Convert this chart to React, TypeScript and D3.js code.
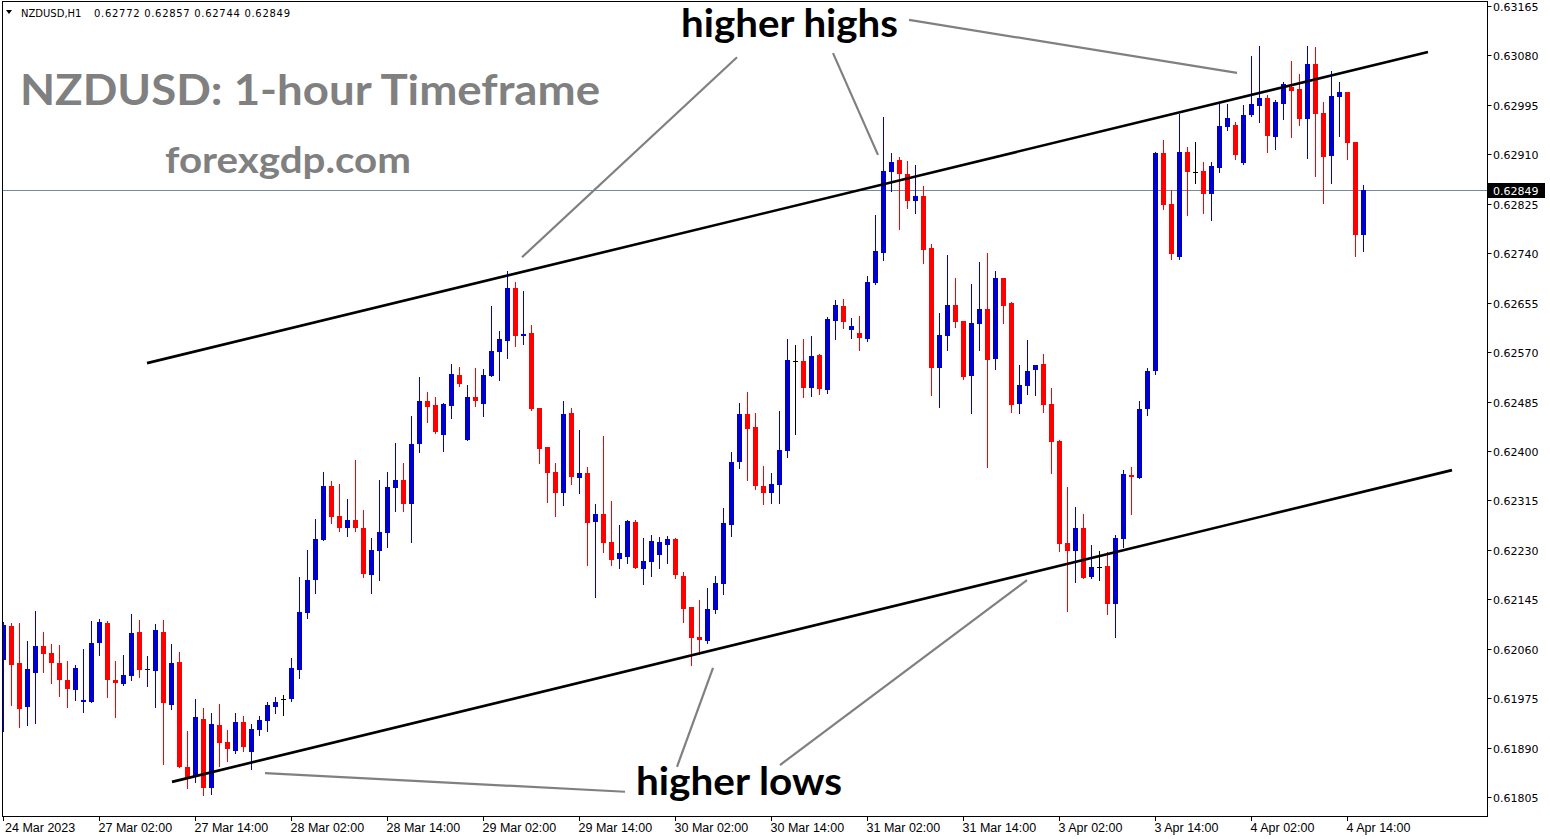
import React from "react";
import * as d3 from "d3";

// ---- Data (NZDUSD H1, 24 Mar 2023 14:00 -> 4 Apr 2023 16:00) ----
const open = [
  0.62041, 0.62099, 0.62035, 0.61960, 0.62018, 0.62065, 0.62053, 0.62035, 0.62006, 0.61989,
  0.61968, 0.61968, 0.62070, 0.62104, 0.62006, 0.61999, 0.62013, 0.62089, 0.62023, 0.62022,
  0.62089, 0.61963, 0.62037, 0.61857, 0.61839, 0.61939, 0.61820, 0.61929, 0.61900, 0.61884,
  0.61934, 0.61882, 0.61920, 0.61936, 0.61960, 0.61974, 0.61974, 0.62023, 0.62121, 0.62178,
  0.62247, 0.62340, 0.62288, 0.62267, 0.62281, 0.62267, 0.62187, 0.62228, 0.62259, 0.62336,
  0.62350, 0.62309, 0.62412, 0.62486, 0.62479, 0.62427, 0.62477, 0.62531, 0.62419, 0.62493,
  0.62481, 0.62529, 0.62570, 0.62589, 0.62680, 0.62598, 0.62603, 0.62474, 0.62407, 0.62364,
  0.62328, 0.62465, 0.62353, 0.62362, 0.62278, 0.62292, 0.62243, 0.62214, 0.62218, 0.62278,
  0.62197, 0.62209, 0.62221, 0.62238, 0.62249, 0.62185, 0.62132, 0.62080, 0.62073, 0.62126,
  0.62171, 0.62273, 0.62381, 0.62464, 0.62441, 0.62340, 0.62328, 0.62341, 0.62400, 0.62555,
  0.62555, 0.62508, 0.62565, 0.62505, 0.62623, 0.62649, 0.62608, 0.62603, 0.62592, 0.62689,
  0.62740, 0.62880, 0.62900, 0.62876, 0.62830, 0.62838, 0.62749, 0.62543, 0.62598, 0.62651,
  0.62623, 0.62529, 0.62618, 0.62644, 0.62558, 0.62697, 0.62654, 0.62481, 0.62512, 0.62539,
  0.62549, 0.62481, 0.62417, 0.62242, 0.62228, 0.62267, 0.62183, 0.62200, 0.62202, 0.62137,
  0.62249, 0.62359, 0.62353, 0.62472, 0.62537, 0.62912, 0.62825, 0.62733, 0.62914, 0.62880,
  0.62881, 0.62842, 0.62886, 0.62957, 0.62960, 0.62895, 0.62978, 0.62993, 0.63007, 0.62940,
  0.62997, 0.63026, 0.63022, 0.62971, 0.63065, 0.62981, 0.62907, 0.63009, 0.63017, 0.62931,
  0.62772,
];
const high = [
  0.62106, 0.62104, 0.62104, 0.62073, 0.62125, 0.62089, 0.62068, 0.62066, 0.62039, 0.62032,
  0.62059, 0.62108, 0.62111, 0.62108, 0.62039, 0.62049, 0.62120, 0.62109, 0.62047, 0.62102,
  0.62109, 0.62068, 0.62054, 0.61919, 0.61973, 0.61958, 0.61949, 0.61965, 0.61920, 0.61949,
  0.61944, 0.61930, 0.61944, 0.61968, 0.61977, 0.61980, 0.62044, 0.62183, 0.62230, 0.62283,
  0.62364, 0.62348, 0.62343, 0.62317, 0.62384, 0.62298, 0.62250, 0.62350, 0.62364, 0.62414,
  0.62379, 0.62460, 0.62527, 0.62501, 0.62493, 0.62482, 0.62549, 0.62544, 0.62513, 0.62543,
  0.62541, 0.62649, 0.62606, 0.62709, 0.62690, 0.62675, 0.62617, 0.62474, 0.62407, 0.62379,
  0.62486, 0.62474, 0.62436, 0.62372, 0.62309, 0.62426, 0.62314, 0.62273, 0.62281, 0.62281,
  0.62250, 0.62255, 0.62252, 0.62254, 0.62250, 0.62192, 0.62132, 0.62144, 0.62164, 0.62185,
  0.62302, 0.62398, 0.62482, 0.62501, 0.62465, 0.62374, 0.62362, 0.62469, 0.62592, 0.62582,
  0.62592, 0.62598, 0.62567, 0.62630, 0.62660, 0.62661, 0.62629, 0.62632, 0.62701, 0.62806,
  0.62974, 0.62912, 0.62905, 0.62898, 0.62892, 0.62856, 0.62756, 0.62637, 0.62737, 0.62697,
  0.62623, 0.62687, 0.62725, 0.62740, 0.62709, 0.62697, 0.62656, 0.62548, 0.62591, 0.62548,
  0.62567, 0.62508, 0.62419, 0.62338, 0.62304, 0.62292, 0.62238, 0.62228, 0.62226, 0.62255,
  0.62367, 0.62372, 0.62486, 0.62543, 0.62914, 0.62935, 0.62849, 0.62979, 0.62923, 0.62931,
  0.62897, 0.62897, 0.62997, 0.62997, 0.62966, 0.62995, 0.63079, 0.63096, 0.63012, 0.63003,
  0.63034, 0.63070, 0.63048, 0.63096, 0.63095, 0.63000, 0.63053, 0.63034, 0.63017, 0.62931,
  0.62857,
];
const low = [
  0.61919, 0.61963, 0.61925, 0.61929, 0.61932, 0.62020, 0.62001, 0.61979, 0.61960, 0.61972,
  0.61951, 0.61968, 0.62049, 0.61977, 0.61943, 0.61998, 0.62006, 0.62011, 0.61996, 0.61960,
  0.61862, 0.61956, 0.61857, 0.61820, 0.61831, 0.61808, 0.61810, 0.61858, 0.61867, 0.61881,
  0.61884, 0.61853, 0.61912, 0.61919, 0.61949, 0.61946, 0.61970, 0.62010, 0.62113, 0.62156,
  0.62247, 0.62276, 0.62262, 0.62254, 0.62262, 0.62183, 0.62156, 0.62178, 0.62235, 0.62297,
  0.62297, 0.62243, 0.62398, 0.62450, 0.62431, 0.62400, 0.62457, 0.62512, 0.62419, 0.62477,
  0.62460, 0.62529, 0.62522, 0.62560, 0.62580, 0.62584, 0.62470, 0.62379, 0.62312, 0.62288,
  0.62307, 0.62343, 0.62328, 0.62204, 0.62149, 0.62226, 0.62204, 0.62199, 0.62207, 0.62199,
  0.62171, 0.62185, 0.62199, 0.62207, 0.62181, 0.62106, 0.62032, 0.62051, 0.62070, 0.62121,
  0.62154, 0.62254, 0.62371, 0.62350, 0.62335, 0.62309, 0.62310, 0.62310, 0.62390, 0.62429,
  0.62493, 0.62494, 0.62498, 0.62500, 0.62592, 0.62611, 0.62594, 0.62574, 0.62589, 0.62687,
  0.62728, 0.62847, 0.62782, 0.62818, 0.62809, 0.62723, 0.62496, 0.62476, 0.62574, 0.62613,
  0.62524, 0.62465, 0.62574, 0.62372, 0.62541, 0.62620, 0.62467, 0.62465, 0.62498, 0.62496,
  0.62467, 0.62362, 0.62228, 0.62125, 0.62175, 0.62181, 0.62181, 0.62178, 0.62120, 0.62080,
  0.62235, 0.62292, 0.62353, 0.62462, 0.62532, 0.62816, 0.62730, 0.62730, 0.62806, 0.62861,
  0.62809, 0.62797, 0.62880, 0.62952, 0.62902, 0.62893, 0.62976, 0.62966, 0.62914, 0.62919,
  0.62971, 0.62940, 0.62960, 0.62904, 0.62873, 0.62826, 0.62861, 0.62941, 0.62902, 0.62735,
  0.62744,
];
const close = [
  0.62101, 0.62032, 0.61956, 0.62025, 0.62065, 0.62051, 0.62035, 0.62006, 0.61991, 0.62027,
  0.61972, 0.62070, 0.62106, 0.62006, 0.62001, 0.62015, 0.62087, 0.62023, 0.62025, 0.62092,
  0.61967, 0.62035, 0.61857, 0.61838, 0.61943, 0.61820, 0.61930, 0.61898, 0.61888, 0.61934,
  0.61891, 0.61922, 0.61937, 0.61963, 0.61968, 0.61974, 0.62027, 0.62123, 0.62178, 0.62249,
  0.62340, 0.62286, 0.62267, 0.62281, 0.62267, 0.62188, 0.62230, 0.62261, 0.62338, 0.62350,
  0.62309, 0.62412, 0.62486, 0.62476, 0.62433, 0.62481, 0.62532, 0.62515, 0.62493, 0.62486,
  0.62531, 0.62572, 0.62592, 0.62680, 0.62598, 0.62601, 0.62472, 0.62403, 0.62362, 0.62328,
  0.62464, 0.62355, 0.62362, 0.62276, 0.62292, 0.62242, 0.62212, 0.62224, 0.62279, 0.62199,
  0.62211, 0.62245, 0.62243, 0.62249, 0.62187, 0.62128, 0.62078, 0.62075, 0.62128, 0.62173,
  0.62276, 0.62381, 0.62464, 0.62438, 0.62340, 0.62328, 0.62343, 0.62402, 0.62556, 0.62555,
  0.62508, 0.62563, 0.62506, 0.62627, 0.62651, 0.62622, 0.62615, 0.62594, 0.62690, 0.62744,
  0.62881, 0.62897, 0.62876, 0.62830, 0.62838, 0.62745, 0.62543, 0.62599, 0.62651, 0.62622,
  0.62527, 0.62620, 0.62644, 0.62556, 0.62697, 0.62649, 0.62479, 0.62513, 0.62537, 0.62548,
  0.62479, 0.62415, 0.62240, 0.62228, 0.62267, 0.62181, 0.62200, 0.62200, 0.62137, 0.62250,
  0.62360, 0.62355, 0.62472, 0.62537, 0.62912, 0.62823, 0.62739, 0.62914, 0.62880, 0.62880,
  0.62842, 0.62890, 0.62959, 0.62972, 0.62909, 0.62978, 0.62997, 0.63007, 0.62941, 0.63000,
  0.63031, 0.63019, 0.62971, 0.63065, 0.62979, 0.62905, 0.63010, 0.63017, 0.62930, 0.62772,
  0.62849,
];

const priceTicks = [
  0.63165, 0.6308, 0.62995, 0.6291, 0.62825, 0.6274, 0.62655, 0.6257, 0.62485,
  0.624, 0.62315, 0.6223, 0.62145, 0.6206, 0.61975, 0.6189, 0.61805,
];
const timeTickIndex = [0, 12, 24, 36, 48, 60, 72, 84, 96, 108, 120, 132, 144, 156, 168];
const timeTickLabels = [
  "24 Mar 2023", "27 Mar 02:00", "27 Mar 14:00", "28 Mar 02:00", "28 Mar 14:00",
  "29 Mar 02:00", "29 Mar 14:00", "30 Mar 02:00", "30 Mar 14:00", "31 Mar 02:00",
  "31 Mar 14:00", "3 Apr 02:00", "3 Apr 14:00", "4 Apr 02:00", "4 Apr 14:00",
];

const lastPrice = 0.62849;
const headerSymbol = "NZDUSD,H1";
const headerOHLC = "0.62772 0.62857 0.62744 0.62849";

// trend channel lines: [barIndex, price]
const channelUpper = [[17.94, 0.62551], [178.06, 0.63086]];
const channelLower = [[21.06, 0.61831], [181.06, 0.62367]];
// annotation pointers: [barIndex, price] pairs
const highPointers = [
  [[64.81, 0.62733], [91.69, 0.63077]],
  [[109.31, 0.62909], [103.69, 0.63084]],
  [[113.19, 0.63141], [154.19, 0.6305]],
];
const lowPointers = [
  [[32.69, 0.61846], [77.69, 0.61814]],
  [[84.19, 0.61857], [88.69, 0.62027]],
  [[97.06, 0.6186], [127.94, 0.62178]],
];

export default function App() {
  const W = 1550;
  const H = 840;
  const plotL = 2;
  const plotR = 1487;
  const plotT = 1;
  const plotB = 816;

  const x = d3.scaleLinear().domain([0, 170]).range([3.5, 1363.5]);
  const y = d3.scaleLinear().domain([0.61805, 0.63165]).range([797, 6]);

  const BLUE = "#0000CD";
  const RED = "#FF0000";
  const GRAY = "#808080";

  const line = d3
    .line<number[]>()
    .x((d) => x(d[0]))
    .y((d) => y(d[1]));

  const candles = open.map((o, i) => ({ i, o, h: high[i], l: low[i], c: close[i] }));

  return (
    <div style={{ position: "absolute", left: 0, top: 0, width: W, height: H, background: "#fff" }}>
      <svg width={W} height={H} style={{ display: "block" }}>
        <defs>
          <clipPath id="plotClip">
            <rect x={plotL} y={plotT} width={plotR - plotL} height={plotB - plotT} />
          </clipPath>
        </defs>
        <rect x={0} y={0} width={W} height={H} fill="#fff" />

        {/* current price line */}
        <line
          x1={plotL}
          x2={plotR}
          y1={Math.round(y(lastPrice)) + 0.5}
          y2={Math.round(y(lastPrice)) + 0.5}
          stroke="#778899"
          strokeWidth={1}
        />

        {/* candles */}
        <g clipPath="url(#plotClip)">
          {candles.map((d) => {
            const cx = x(d.i);
            const color = d.c > d.o ? BLUE : d.c < d.o ? RED : "#000";
            const top = Math.round(y(Math.max(d.o, d.c)));
            const bot = Math.round(y(Math.min(d.o, d.c)));
            const hgt = Math.max(1, bot - top);
            return (
              <g key={d.i}>
                <line
                  x1={cx}
                  x2={cx}
                  y1={Math.round(y(d.h))}
                  y2={Math.round(y(d.l)) + 1}
                  stroke={color}
                  strokeWidth={1}
                />
                {d.c === d.o ? (
                  <line x1={cx - 2.5} x2={cx + 2.5} y1={top + 0.5} y2={top + 0.5} stroke="#000" strokeWidth={1} />
                ) : (
                  <rect x={cx - 2.5} y={top} width={5} height={hgt} fill={color} />
                )}
              </g>
            );
          })}
        </g>

        {/* channel lines */}
        <g clipPath="url(#plotClip)">
          <path d={line(channelUpper as number[][]) || ""} stroke="#000" strokeWidth={2.6} fill="none" />
          <path d={line(channelLower as number[][]) || ""} stroke="#000" strokeWidth={2.6} fill="none" />
          {highPointers.concat(lowPointers).map((p, k) => (
            <path key={k} d={line(p as number[][]) || ""} stroke={GRAY} strokeWidth={2.2} fill="none" />
          ))}
        </g>

        {/* annotation texts */}
        <text
          x={20}
          y={105}
          fontFamily="Lato, 'Open Sans', sans-serif"
          fontWeight={700}
          fontSize={42}
          fill={GRAY}
          textLength={580}
          lengthAdjust="spacingAndGlyphs"
        >
          NZDUSD: 1-hour Timeframe
        </text>
        <text
          x={165}
          y={173}
          fontFamily="Lato, 'Open Sans', sans-serif"
          fontWeight={700}
          fontSize={36}
          fill={GRAY}
          textLength={246}
          lengthAdjust="spacingAndGlyphs"
        >
          forexgdp.com
        </text>
        <text
          x={681}
          y={37}
          fontFamily="Lato, 'Open Sans', sans-serif"
          fontWeight={700}
          fontSize={39}
          fill="#000"
          textLength={217}
          lengthAdjust="spacingAndGlyphs"
        >
          higher highs
        </text>
        <text
          x={636}
          y={795}
          fontFamily="Lato, 'Open Sans', sans-serif"
          fontWeight={700}
          fontSize={39}
          fill="#000"
          textLength={206}
          lengthAdjust="spacingAndGlyphs"
        >
          higher lows
        </text>

        {/* header */}
        <path d="M6,10 L12,10 L9,14 Z" fill="#000" />
        <text x={21} y={17} fontFamily="'DejaVu Sans', sans-serif" fontSize={10} fill="#000">
          {headerSymbol}
        </text>
        <text
          x={94}
          y={17}
          fontFamily="'DejaVu Sans', sans-serif"
          fontSize={10}
          fill="#000"
          textLength={196}
          lengthAdjust="spacing"
        >
          {headerOHLC}
        </text>

        {/* frame */}
        <rect
          x={plotL + 0.5}
          y={plotT + 0.5}
          width={plotR - plotL}
          height={plotB - plotT}
          fill="none"
          stroke="#000"
          strokeWidth={1}
        />

        {/* price axis */}
        {priceTicks.map((p) => {
          const yy = Math.round(y(p)) + 0.5;
          return (
            <g key={p}>
              <line x1={plotR + 0.5} x2={plotR + 4.5} y1={yy} y2={yy} stroke="#000" strokeWidth={1} />
              <text
                x={1493}
                y={yy + 4}
                fontFamily="'DejaVu Sans', sans-serif"
                fontSize={11}
                fill="#000"
              >
                {p.toFixed(5)}
              </text>
            </g>
          );
        })}
        <rect x={plotR + 1} y={Math.round(y(lastPrice)) - 7} width={57} height={15} fill="#000" />
        <text
          x={1493}
          y={Math.round(y(lastPrice)) + 4.5}
          fontFamily="'DejaVu Sans', sans-serif"
          fontSize={11}
          fill="#fff"
        >
          {lastPrice.toFixed(5)}
        </text>

        {/* time axis */}
        {timeTickIndex.map((ti, k) => {
          const xx = x(ti);
          return (
            <g key={ti}>
              <line x1={xx} x2={xx} y1={plotB + 1} y2={plotB + 5} stroke="#000" strokeWidth={1} />
              <text
                x={k === 0 ? 5 : xx - 1}
                y={832}
                fontFamily="'Liberation Sans', Arial, sans-serif"
                fontSize={12.5}
                fill="#000"
              >
                {timeTickLabels[k]}
              </text>
            </g>
          );
        })}
      </svg>
    </div>
  );
}
